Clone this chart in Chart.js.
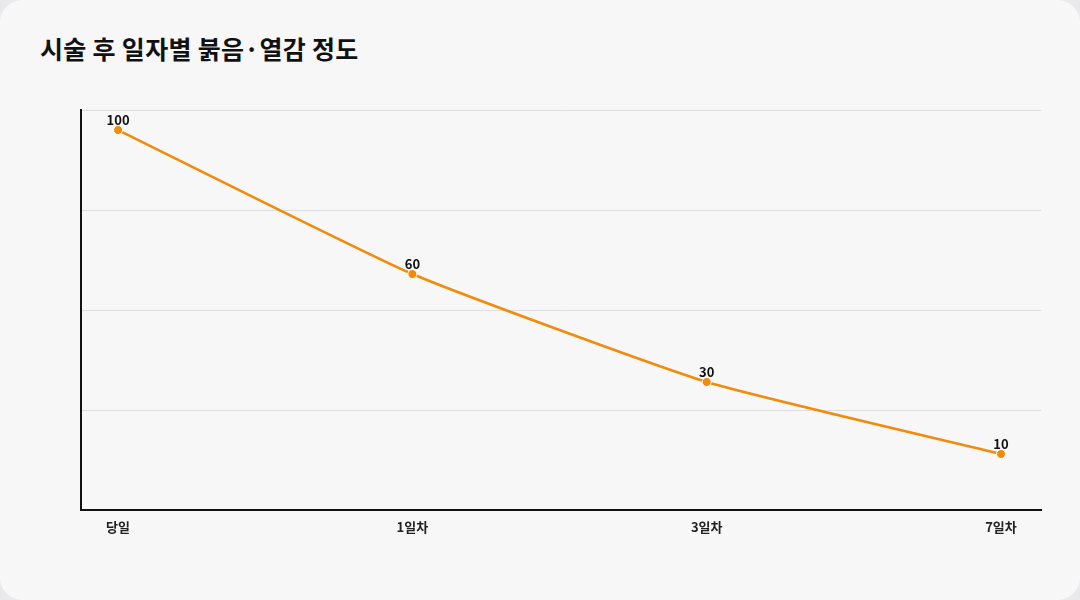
<!DOCTYPE html>
<html><head><meta charset="utf-8">
<script src="https://cdn.jsdelivr.net/npm/chart.js@4"></script>
<style>
html,body{margin:0;padding:0;background:#e9e9eb;}
#card{position:absolute;left:0;top:0;width:1080px;height:600px;background:#f7f7f8;border-radius:22px;overflow:hidden;}
#title{position:absolute;left:40px;top:30px;font:bold 25px "Noto Sans CJK KR",sans-serif;letter-spacing:0.3px;color:#111;}
canvas{position:absolute;left:0;top:0;}
</style></head>
<body>
<div id="card"><div id="title">시술 후 일자별 붉음·열감 정도</div><canvas id="c" width="1080" height="600"></canvas></div>
<script>
const categories = ["당일", "1일차", "3일차", "7일차"];
const rednessValues = [100, 60, 30, 10];

const Y_MIN = -5.56, Y_MAX = 105.56;

const pointLabels = {
  id: "pointLabels",
  afterDatasetsDraw(chart) {
    const ctx = chart.ctx;
    const meta = chart.getDatasetMeta(0);
    ctx.save();
    ctx.font = 'bold 13px "Noto Sans CJK KR", sans-serif';
    ctx.fillStyle = "#111";
    ctx.textAlign = "center";
    ctx.textBaseline = "bottom";
    meta.data.forEach((pt, i) => {
      ctx.fillText(String(rednessValues[i]), pt.x, pt.y - 3);
    });
    ctx.restore();
  }
};

new Chart(document.getElementById("c"), {
  type: "line",
  data: {
    datasets: [{
      data: rednessValues.map((v, i) => ({ x: i, y: v })),
      borderColor: "#f28a0a",
      backgroundColor: "#f28a0a",
      borderWidth: 2.5,
      pointRadius: 4.5,
      pointBorderColor: "#ffffff",
      pointBorderWidth: 1,
      tension: 0.15
    }]
  },
  options: {
    responsive: false,
    animation: false,
    layout: { padding: { left: 81, right: 39, top: 110, bottom: 0 } },
    plugins: { legend: { display: false }, tooltip: { enabled: false } },
    scales: {
      x: {
        type: "linear",
        min: -0.126, max: 3.136,
        afterBuildTicks: s => { s.ticks = categories.map((_, i) => ({ value: i })); },
        afterFit: s => { s.height = 90; },
        ticks: {
          callback: v => categories[v],
          padding: 9,
          color: "#222",
          font: { family: "Noto Sans CJK KR", size: 13, weight: "bold" }
        },
        grid: { display: false, drawTicks: false },
        border: { display: true, color: "#111", width: 2 }
      },
      y: {
        min: Y_MIN, max: Y_MAX,
        afterBuildTicks: s => {
          const step = (Y_MAX - Y_MIN) / 4;
          s.ticks = [0, 1, 2, 3, 4].map(k => ({ value: Y_MIN + k * step }));
        },
        afterFit: s => { s.width = 0; },
        ticks: { display: false },
        grid: { color: "#dddddf", drawTicks: false },
        border: { display: true, color: "#111", width: 2 }
      }
    }
  },
  plugins: [pointLabels]
});
</script>
</body></html>
